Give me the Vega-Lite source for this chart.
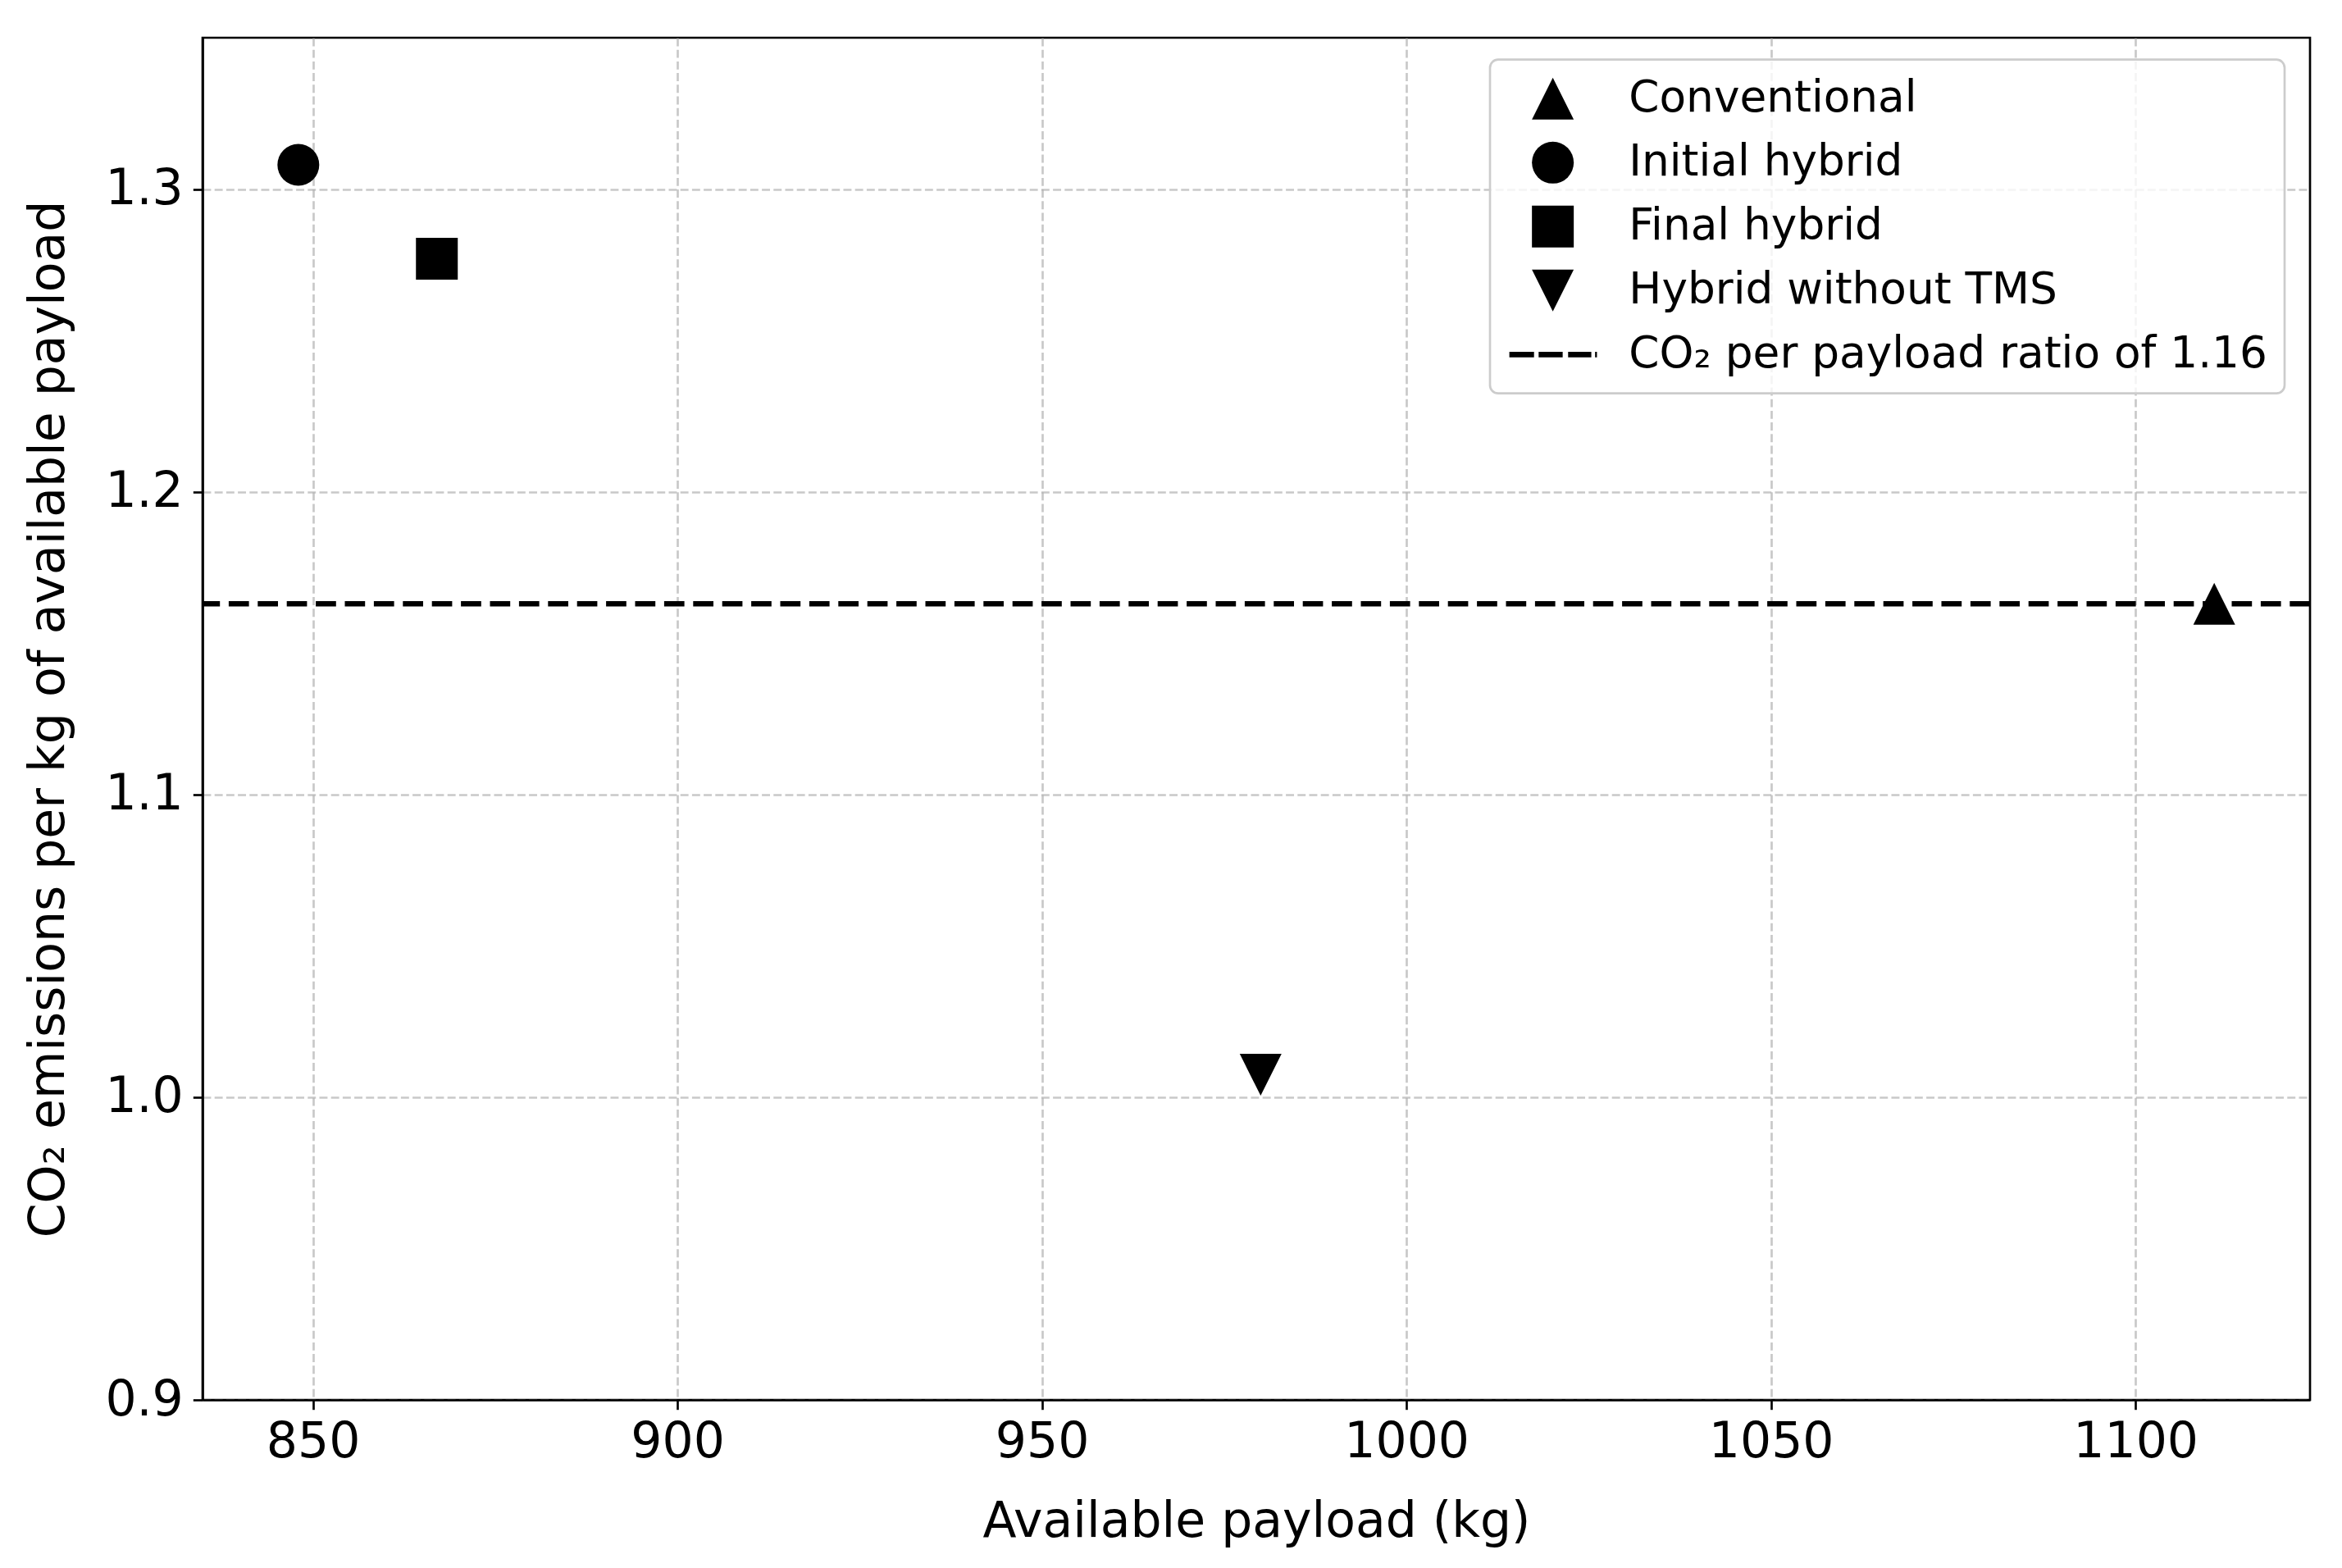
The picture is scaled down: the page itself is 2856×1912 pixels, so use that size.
{
  "$schema": "https://vega.github.io/schema/vega-lite/v6.json",
  "width": 2570,
  "height": 1661,
  "autosize": {"type": "none"},
  "padding": {"left": 247, "top": 46, "right": 39, "bottom": 205},
  "background": "white",
  "config": {
    "font": "DejaVu Sans",
    "view": {"stroke": "black", "strokeWidth": 2.67},
    "axis": {
      "domainColor": "black",
      "domainWidth": 2.67,
      "tickColor": "black",
      "tickWidth": 2.67,
      "tickSize": 11.7,
      "labelFont": "DejaVu Sans",
      "labelFontSize": 60,
      "labelColor": "black",
      "titleFont": "DejaVu Sans",
      "titleFontSize": 60,
      "titleFontWeight": "normal",
      "titleColor": "black",
      "grid": true,
      "gridColor": "#b0b0b0",
      "gridOpacity": 0.7,
      "gridWidth": 2.67,
      "gridDash": [9.9, 4.3]
    },
    "legend": {
      "orient": "none",
      "legendX": 1570,
      "legendY": 26.7,
      "labelFont": "DejaVu Sans",
      "labelFontSize": 53.3,
      "labelColor": "black",
      "labelLimit": 2000,
      "symbolSize": 2601,
      "symbolFillColor": "black",
      "symbolStrokeColor": "black",
      "symbolStrokeWidth": 0,
      "symbolOffset": 29,
      "fillColor": "rgba(255,255,255,0.8)",
      "strokeColor": "#cccccc",
      "strokeWidth": 2.67,
      "cornerRadius": 10,
      "padding": 21,
      "rowPadding": 24,
      "labelOffset": 66
    }
  },
  "layer": [
    {
      "data": {"values": [{"series": "CO₂ per payload ratio of 1.16", "co2": 1.163}]},
      "mark": {"type": "rule", "color": "black", "strokeWidth": 6.67, "strokeDash": [24.7, 10.7]},
      "encoding": {
        "y": {
          "field": "co2",
          "type": "quantitative",
          "scale": {"domain": [0.9, 1.35], "nice": false, "zero": false},
          "axis": {"values": [0.9, 1.0, 1.1, 1.2, 1.3], "format": ".1f", "title": "CO₂ emissions per kg of available payload", "labelPadding": 12, "titleX": -170, "titleY": 830.5, "titleBaseline": "alphabetic", "titleAngle": -90}
        }
      }
    },
    {
      "data": {
        "values": [
          {"configuration": "Conventional", "payload": 1110.8, "co2": 1.163},
          {"configuration": "Initial hybrid", "payload": 848.0, "co2": 1.308},
          {"configuration": "Final hybrid", "payload": 867.0, "co2": 1.277},
          {"configuration": "Hybrid without TMS", "payload": 980.0, "co2": 1.0074}
        ]
      },
      "mark": {"type": "point", "filled": true, "color": "black", "opacity": 1, "size": 2601, "strokeWidth": 0},
      "encoding": {
        "x": {
          "field": "payload",
          "type": "quantitative",
          "scale": {"domain": [834.86, 1123.94], "nice": false, "zero": false},
          "axis": {"values": [850, 900, 950, 1000, 1050, 1100], "format": "d", "title": "Available payload (kg)", "labelPadding": 11, "titleX": 1285, "titleY": 166.3, "titleBaseline": "alphabetic"}
        },
        "y": {
          "field": "co2",
          "type": "quantitative",
          "scale": {"domain": [0.9, 1.35], "nice": false, "zero": false},
          "axis": {"values": [0.9, 1.0, 1.1, 1.2, 1.3], "format": ".1f", "title": "CO₂ emissions per kg of available payload", "labelPadding": 12, "titleX": -170, "titleY": 830.5, "titleBaseline": "alphabetic", "titleAngle": -90}
        },
        "shape": {
          "field": "configuration",
          "type": "nominal",
          "scale": {
            "domain": ["Conventional", "Initial hybrid", "Final hybrid", "Hybrid without TMS", "CO₂ per payload ratio of 1.16"],
            "range": [
              "M0,-1L1,1L-1,1Z",
              "circle",
              "square",
              "M0,1L1,-1L-1,-1Z",
              "M-2.08,-0.131H-0.9V0.131H-2.08Z M-0.68,-0.131H0.47V0.131H-0.68Z M0.73,-0.131H1.84V0.131H0.73Z M2.02,-0.131H2.11V0.131H2.02Z"
            ]
          },
          "legend": {"title": null}
        }
      }
    }
  ]
}
